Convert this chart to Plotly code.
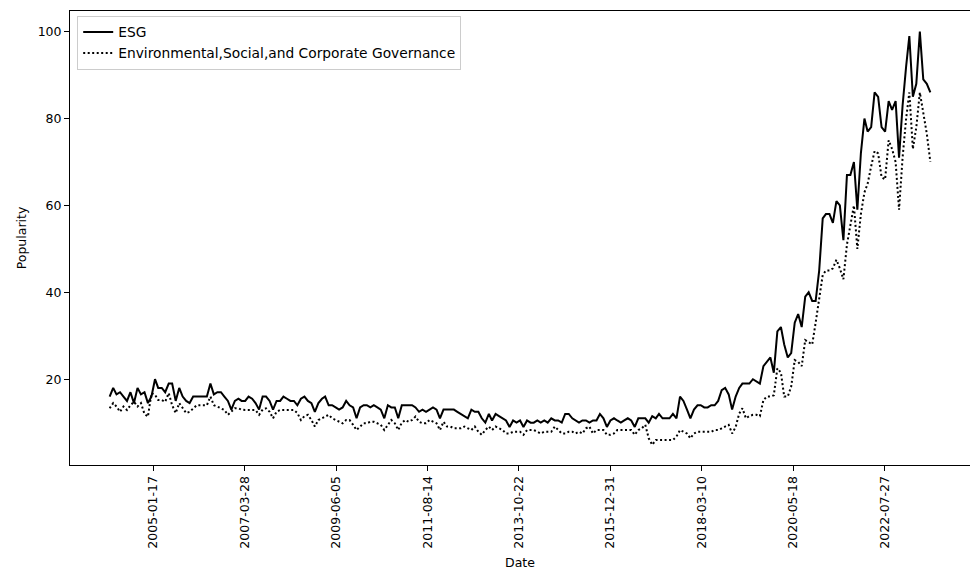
import pandas as pd
import plotly.graph_objects as go

# Monthly observations starting January 2004
start_month = "2004-01-01"

esg = [16, 18, 16.5, 17, 16, 15, 17, 14.5, 18, 16.5, 17, 14.5, 16, 20, 18, 18, 17, 19, 19, 15,
       18, 16, 15, 14.5, 16, 16, 16, 16, 16, 19, 16.5, 17, 17, 16, 15, 13, 15, 15.5, 15, 15,
       16, 15.5, 14.5, 13, 16, 16, 15, 13, 15, 15, 16, 15.5, 15, 15, 14, 15.5, 16, 15, 14.5, 12.5,
       14.5, 15.5, 16, 14, 14, 13.5, 13, 13.5, 15, 14, 13.5, 11, 13.5, 14, 14, 13.5, 14, 13.5, 13, 11,
       14, 13.5, 13.5, 11, 14, 14, 14, 14, 13.5, 12.5, 13, 12.5, 13, 13.5, 13, 11, 13, 13, 13, 13,
       12.5, 12, 11.5, 11, 13, 12.5, 12.5, 11, 10, 12, 10.5, 12, 11.5, 11, 10.5, 9, 10.5, 10, 10.5, 9,
       10.5, 10, 10, 10.5, 10, 10.5, 10, 11, 10.5, 10.5, 10, 12, 12, 11, 10.5, 10, 10.5, 10.5, 10, 10.5,
       10.5, 12, 11, 9, 10.5, 11, 10.5, 10, 10.5, 11, 10.5, 9, 11, 11, 11, 10, 11.5, 11, 12, 11,
       11, 11, 12, 11, 16, 15, 13, 11, 13, 14, 14, 13.5, 13.5, 14, 14, 15, 17.5, 18, 16.5, 13,
       16, 18, 19, 19, 19, 20, 19.5, 19, 23, 24, 25, 21.5, 31, 32, 28, 25, 26, 33, 35, 32,
       39, 40, 38, 38, 45, 57, 58, 58, 56, 61, 60, 52, 67, 67, 70, 59, 72, 80, 77, 78,
       86, 85, 78, 77, 84, 82, 84, 71, 83, 92, 99, 85, 88, 100, 89, 88, 86]

escg = [13.3, 14.5, 13.7, 12.5, 13.7, 12.9, 14, 14.8, 13.7, 14.5, 12, 11.4, 16.8, 16.4, 15.2, 15.2, 14.8, 16.8, 14, 12.2,
        14.5, 13.3, 12.2, 12.5, 13.3, 14, 14, 14, 14, 16, 14, 13.7, 13.3, 12.9, 11.8, 12.5, 13.3, 13.3, 13, 12.9,
        12.9, 12.9, 12.9, 11.8, 13, 13.3, 12.5, 11, 12.5, 12.9, 12.9, 12.9, 12.9, 12.9, 12.2, 10.6, 11.5, 11.8, 10.6, 9.1,
        10.6, 11, 11.4, 11.8, 11, 10.6, 10.2, 9.85, 10.6, 10.6, 9.5, 8.3, 9.1, 9.85, 9.85, 10.2, 10.2, 9.85, 9.5, 8.3,
        9.5, 10.6, 9.85, 8.3, 10, 10.6, 10.2, 10.6, 11.4, 10.2, 9.85, 9.85, 10.6, 10.2, 9.85, 8.3, 10.2, 9.1, 9.1, 8.7,
        8.7, 8.7, 9.1, 8.7, 8.3, 9.1, 7.9, 7.2, 8.3, 9.1, 8.3, 9.1, 8.7, 8.3, 7.5, 7.5, 7.9, 7.9, 7.9, 7.2,
        8.3, 8.3, 8.3, 7.9, 7.5, 7.9, 7.9, 7.9, 9.1, 8.3, 7.5, 7.5, 7.9, 7.9, 7.5, 7.9, 7.5, 8.7, 9.1, 7.5,
        8.3, 8.3, 8.3, 7.2, 7.2, 7.5, 8.3, 8.3, 8.3, 8.3, 8.3, 7.2, 8.3, 8.7, 9.5, 6.4, 4.9, 6, 6, 6,
        6, 6, 6, 6.8, 8.3, 7.9, 7.5, 6.4, 7.5, 7.9, 7.9, 7.9, 7.9, 7.9, 8.3, 8.3, 8.7, 9.1, 9.5, 7.5,
        9, 12.1, 13.3, 11, 11.5, 11.8, 11.8, 11.5, 15.2, 16, 16, 16.3, 22.5, 21.5, 16, 16, 18.3, 24.4, 24, 23,
        29, 28.5, 28, 33, 39, 44, 45, 45, 45.5, 47.5, 45.5, 43, 51, 55, 60, 50, 58, 63, 65, 69,
        72.5, 72, 66.5, 66, 75, 73, 70, 59, 71, 80, 86, 73, 78, 86, 81, 76.5, 70]

tick_dates = ["2005-01-17", "2007-03-28", "2009-06-05", "2011-08-14", "2013-10-22",
              "2015-12-31", "2018-03-10", "2020-05-18", "2022-07-27"]
y_ticks = [20, 40, 60, 80, 100]

dates = pd.date_range(start_month, periods=len(esg), freq="MS")

fig = go.Figure()
fig.add_trace(go.Scatter(x=dates, y=esg, mode="lines", name="ESG",
                         line=dict(color="black", width=2)))
fig.add_trace(go.Scatter(x=dates, y=escg, mode="lines",
                         name="Environmental,Social,and Corporate Governance",
                         line=dict(color="black", width=2, dash="2px,2.5px")))

font_family = "DejaVu Sans, sans-serif"
fig.update_layout(
    width=970, height=571,
    margin=dict(l=70, r=0, t=11, b=106),
    paper_bgcolor="white", plot_bgcolor="white",
    font=dict(family=font_family, size=12.5, color="black"),
    showlegend=True,
    legend=dict(x=0.008, y=0.99, xanchor="left", yanchor="top",
                bgcolor="rgba(255,255,255,0.8)", bordercolor="#cccccc", borderwidth=1,
                font=dict(size=13.8), tracegroupgap=0, itemwidth=30),
    xaxis=dict(
        type="date", range=["2003-01-19", "2024-08-13"],
        tickmode="array", tickvals=tick_dates, ticktext=tick_dates, tickangle=-90,
        showgrid=False, zeroline=False, showline=True, linecolor="black", linewidth=1,
        mirror=True, ticks="outside", ticklen=5, tickcolor="black",
        title=dict(text="Date", font=dict(size=12.5), standoff=10),
    ),
    yaxis=dict(
        range=[0.25, 104.75], tickmode="array", tickvals=y_ticks,
        showgrid=False, zeroline=False, showline=True, linecolor="black", linewidth=1,
        ticks="outside", ticklen=5, tickcolor="black",
        title=dict(text="Popularity", font=dict(size=12.5), standoff=8),
    ),
)

fig.write_html("out.html")
